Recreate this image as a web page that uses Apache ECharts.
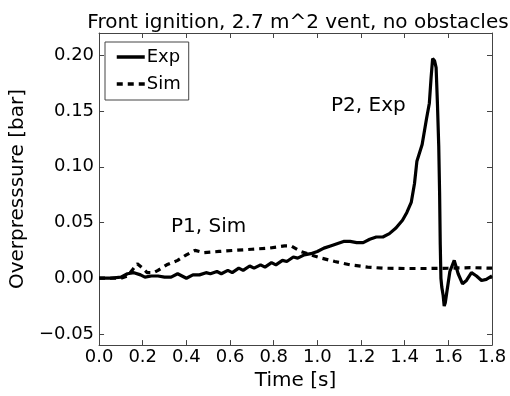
<!DOCTYPE html>
<html>
<head>
<meta charset="utf-8">
<script src="https://cdn.jsdelivr.net/npm/echarts@6/dist/echarts.min.js"></script>
<style>
  html, body { margin: 0; padding: 0; background: #fff; }
  #chart { width: 510px; height: 396px; }
</style>
</head>
<body>
<div id="chart"></div>
<script>
// experiment trace: time [s] and overpressure [bar]
const expTime = [0.00, 0.05, 0.10, 0.13, 0.16, 0.19, 0.21, 0.24, 0.27, 0.30, 0.33, 0.36, 0.38, 0.40, 0.43, 0.46,
  0.49, 0.51, 0.54, 0.56, 0.59, 0.61, 0.64, 0.66, 0.69, 0.71, 0.74, 0.76, 0.79, 0.81, 0.84, 0.86, 0.89, 0.91,
  0.94, 0.97, 1.00, 1.03, 1.06, 1.09, 1.12, 1.15, 1.18, 1.21, 1.24, 1.27, 1.30, 1.33, 1.36, 1.39, 1.41, 1.43,
  1.445, 1.456, 1.48, 1.50, 1.513, 1.521, 1.528, 1.537, 1.544, 1.550, 1.556, 1.560, 1.563, 1.566, 1.570, 1.576,
  1.581, 1.586, 1.592, 1.607, 1.627, 1.645, 1.665, 1.683, 1.706, 1.729, 1.752, 1.774, 1.80]
const expValue = [0.000, 0.000, 0.001, 0.004, 0.005, 0.003, 0.001, 0.002, 0.002, 0.001, 0.001, 0.004, 0.002, 0.000, 0.003, 0.003,
  0.005, 0.004, 0.006, 0.004, 0.007, 0.005, 0.009, 0.007, 0.011, 0.009, 0.012, 0.010, 0.014, 0.012, 0.016, 0.015, 0.019, 0.018,
  0.021, 0.022, 0.024, 0.027, 0.029, 0.031, 0.033, 0.033, 0.032, 0.032, 0.035, 0.037, 0.037, 0.040, 0.045, 0.052, 0.059, 0.068,
  0.085, 0.105, 0.120, 0.143, 0.157, 0.180, 0.197, 0.195, 0.189, 0.157, 0.119, 0.076, 0.030, 0.000, -0.008, -0.015,
  -0.025, -0.022, -0.014, 0.006, 0.016, 0.004, -0.005, -0.002, 0.005, 0.002, -0.002, -0.001, 0.002]

// simulation trace
const simTime = [0.00, 0.10, 0.13, 0.155, 0.175, 0.20, 0.22, 0.25, 0.27, 0.31, 0.36, 0.40, 0.44, 0.48, 0.55, 0.62,
  0.70, 0.78, 0.85, 0.88, 0.925, 0.97, 1.02, 1.08, 1.15, 1.23, 1.30, 1.40, 1.50, 1.60, 1.70, 1.80]
const simValue = [0.000, 0.000, 0.002, 0.008, 0.013, 0.009, 0.005, 0.005, 0.007, 0.012, 0.016, 0.021, 0.025, 0.023, 0.024, 0.025,
  0.026, 0.027, 0.029, 0.029, 0.024, 0.021, 0.018, 0.015, 0.012, 0.010, 0.009, 0.0087, 0.0087, 0.009, 0.0095, 0.009]

const yTicks = [-0.05, 0.00, 0.05, 0.10, 0.15, 0.20]
const xTicks = [0.0, 0.2, 0.4, 0.6, 0.8, 1.0, 1.2, 1.4, 1.6, 1.8]

const font = 'DejaVu Sans'
const frame = { show: true, onZero: false, lineStyle: { color: '#444', width: 1 } }
const tick = { show: true, inside: true, length: 5, lineStyle: { color: '#444' } }
const fmtY = v => (Math.abs(v) < 1e-9 ? 0 : v).toFixed(2).replace('-', '\u2212')

const chart = echarts.init(document.getElementById('chart'))
chart.setOption({
  animation: false,
  backgroundColor: '#fff',
  title: {
    text: 'Front ignition, 2.7 m^2 vent, no obstacles',
    left: 293,
    textAlign: 'center',
    top: 8,
    textStyle: { fontFamily: font, fontSize: 20, fontWeight: 'normal', color: '#000' }
  },
  grid: { left: 97, right: 18, top: 33, bottom: 42 },
  legend: {
    left: 105,
    top: 42,
    orient: 'vertical',
    data: ['Exp', 'Sim'],
    itemWidth: 28,
    itemHeight: 14,
    itemGap: 9,
    padding: [6, 8, 7, 10],
    borderColor: '#444',
    borderWidth: 1,
    borderRadius: 0,
    itemStyle: { opacity: 0 },
    lineStyle: { width: 3.5 },
    textStyle: { fontFamily: font, fontSize: 18, color: '#000', padding: [0, 0, 0, -3] }
  },
  xAxis: [
    {
      type: 'value',
      min: 0,
      max: 1.8,
      interval: 0.2,
      name: 'Time [s]',
      nameLocation: 'middle',
      nameGap: 20,
      nameTextStyle: { fontFamily: font, fontSize: 20, color: '#000' },
      axisLine: frame,
      axisTick: { ...tick, customValues: xTicks },
      splitLine: { show: false },
      axisLabel: {
        customValues: xTicks,
        fontFamily: font, fontSize: 18, color: '#000', margin: 3,
        formatter: v => v.toFixed(1)
      }
    },
    {
      type: 'value', position: 'top', min: 0, max: 1.8, interval: 0.2,
      axisLine: frame, axisTick: { ...tick, customValues: xTicks },
      axisLabel: { show: false }, splitLine: { show: false }
    }
  ],
  yAxis: [
    {
      type: 'value',
      min: -0.06,
      max: 0.22,
      name: 'Overpresssure [bar]',
      nameLocation: 'middle',
      nameGap: 63,
      nameTextStyle: { fontFamily: font, fontSize: 20, color: '#000' },
      axisLine: frame,
      axisTick: { ...tick, customValues: yTicks },
      splitLine: { show: false },
      axisLabel: {
        customValues: yTicks,
        fontFamily: font, fontSize: 18, color: '#000', margin: 5,
        formatter: fmtY
      }
    },
    {
      type: 'value', position: 'right', min: -0.06, max: 0.22,
      axisLine: frame, axisTick: { ...tick, customValues: yTicks },
      axisLabel: { show: false, customValues: yTicks }, splitLine: { show: false }
    }
  ],
  graphic: [
    { type: 'text', left: 171, top: 217, style: { text: 'P1, Sim', fontFamily: font, fontSize: 20, fill: '#000' } },
    { type: 'text', left: 331, top: 96, style: { text: 'P2, Exp', fontFamily: font, fontSize: 20, fill: '#000' } }
  ],
  series: [
    {
      name: 'Exp',
      type: 'line',
      symbol: 'none',
      color: '#000',
      lineStyle: { color: '#000', width: 3.2 },
      data: expTime.map((t, i) => [t, expValue[i]])
    },
    {
      name: 'Sim',
      type: 'line',
      symbol: 'none',
      color: '#000',
      lineStyle: { color: '#000', width: 3.2, type: [6, 5] },
      data: simTime.map((t, i) => [t, simValue[i]])
    }
  ]
})
</script>
</body>
</html>
